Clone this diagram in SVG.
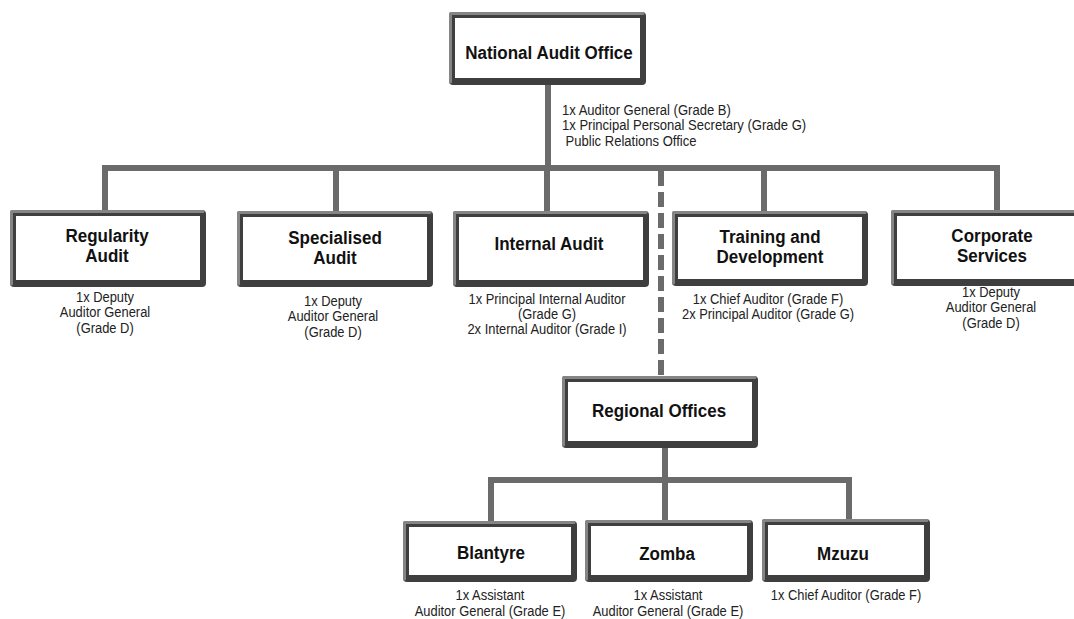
<svg xmlns="http://www.w3.org/2000/svg" width="1074" height="619" viewBox="0 0 1074 619">
<style>
.bg{fill:#ffffff}
.c{fill:none;stroke:#6b6b6b;stroke-width:6;stroke-linejoin:miter}
.d{fill:none;stroke:#6b6b6b;stroke-width:6;stroke-dasharray:15 6}
.bo{fill:#3f3f3f}
.hl{fill:none;stroke:#858585;stroke-width:3;stroke-linecap:round;stroke-linejoin:round}
.bi{fill:#ffffff}
.t{font-family:"Liberation Sans",Arial,sans-serif;font-weight:bold;font-size:18.5px;fill:#111;text-anchor:middle}
.n{font-family:"Liberation Sans",Arial,sans-serif;font-size:14.5px;fill:#222;text-anchor:middle}
.nl{font-family:"Liberation Sans",Arial,sans-serif;font-size:14.5px;fill:#222}
</style>
<rect class="bg" x="0" y="0" width="1074" height="619"/>
<g id="connectors">
<path class="c" d="M548,85 V168"/>
<path class="c" d="M105,212 V168 H997 V212"/>
<path class="c" d="M336,168 V213"/>
<path class="c" d="M547,168 V213"/>
<path class="c" d="M764,168 V213"/>
<path class="d" d="M661,171 V377"/>
<path class="c" d="M665,448 V480"/>
<path class="c" d="M491,523 V480 H849 V520"/>
<path class="c" d="M665,480 V522"/>
</g>
<g id="nao">
<rect class="bo" x="449" y="12" width="197" height="73" rx="4"/>
<path class="hl" d="M450.5,82 V13.5 H643"/>
<rect class="bi" x="455" y="18" width="185" height="60"/>
<text class="t" transform="translate(549,58.5) scale(0.92,1)">National Audit Office</text>
<text class="nl" transform="translate(562,115) scale(0.9,1)"><tspan x="0" y="0">1x Auditor General (Grade B)</tspan><tspan x="0" y="15.5">1x Principal Personal Secretary (Grade G)</tspan><tspan x="4" y="31">Public Relations Office</tspan></text>
</g>
<g id="regularity">
<rect class="bo" x="10" y="210" width="196" height="77" rx="4"/>
<path class="hl" d="M11.5,284 V211.5 H203"/>
<rect class="bi" x="16" y="216" width="184" height="64"/>
<text class="t" transform="translate(107,241.5) scale(0.92,1)"><tspan x="0" y="0">Regularity</tspan><tspan x="0" y="21">Audit</tspan></text>
<text class="n" transform="translate(105,302) scale(0.89,1)"><tspan x="0" y="0">1x Deputy</tspan><tspan x="0" y="15.5">Auditor General</tspan><tspan x="0" y="31">(Grade D)</tspan></text>
</g>
<g id="specialised">
<rect class="bo" x="237" y="211" width="196" height="76" rx="4"/>
<path class="hl" d="M238.5,284 V212.5 H430"/>
<rect class="bi" x="243" y="217" width="184" height="63"/>
<text class="t" transform="translate(335,243.5) scale(0.92,1)"><tspan x="0" y="0">Specialised</tspan><tspan x="0" y="21">Audit</tspan></text>
<text class="n" transform="translate(333,306) scale(0.89,1)"><tspan x="0" y="0">1x Deputy</tspan><tspan x="0" y="15.5">Auditor General</tspan><tspan x="0" y="31">(Grade D)</tspan></text>
</g>
<g id="internal">
<rect class="bo" x="453" y="211" width="196" height="76" rx="4"/>
<path class="hl" d="M454.5,284 V212.5 H646"/>
<rect class="bi" x="459" y="217" width="184" height="63"/>
<text class="t" transform="translate(549,250) scale(0.92,1)">Internal Audit</text>
<text class="n" transform="translate(547,304) scale(0.89,1)"><tspan x="0" y="0">1x Principal Internal Auditor</tspan><tspan x="0" y="15">(Grade G)</tspan><tspan x="0" y="30">2x Internal Auditor (Grade I)</tspan></text>
</g>
<g id="training">
<rect class="bo" x="672" y="211" width="196" height="75" rx="4"/>
<path class="hl" d="M673.5,283 V212.5 H865"/>
<rect class="bi" x="678" y="217" width="184" height="62"/>
<text class="t" transform="translate(770,242.5) scale(0.92,1)"><tspan x="0" y="0">Training and</tspan><tspan x="0" y="21">Development</tspan></text>
<text class="n" transform="translate(768,304) scale(0.89,1)"><tspan x="0" y="0">1x Chief Auditor (Grade F)</tspan><tspan x="0" y="15.5">2x Principal Auditor (Grade G)</tspan></text>
</g>
<g id="corporate">
<rect class="bo" x="891" y="210" width="200" height="76" rx="4"/>
<path class="hl" d="M892.5,283 V211.5 H1088"/>
<rect class="bi" x="897" y="216" width="188" height="63"/>
<text class="t" transform="translate(992,241.5) scale(0.92,1)"><tspan x="0" y="0">Corporate</tspan><tspan x="0" y="21">Services</tspan></text>
<text class="n" transform="translate(991,297) scale(0.89,1)"><tspan x="0" y="0">1x Deputy</tspan><tspan x="0" y="15.5">Auditor General</tspan><tspan x="0" y="31">(Grade D)</tspan></text>
</g>
<g id="regional">
<rect class="bo" x="562" y="376" width="196" height="72" rx="4"/>
<path class="hl" d="M563.5,445 V377.5 H755"/>
<rect class="bi" x="568" y="382" width="184" height="59"/>
<text class="t" transform="translate(659,417) scale(0.92,1)">Regional Offices</text>
</g>
<g id="blantyre">
<rect class="bo" x="403" y="521" width="174" height="61" rx="4"/>
<path class="hl" d="M404.5,579 V522.5 H574"/>
<rect class="bi" x="409" y="527" width="162" height="48"/>
<text class="t" transform="translate(491,559) scale(0.92,1)">Blantyre</text>
<text class="n" transform="translate(490,600) scale(0.89,1)"><tspan x="0" y="0">1x Assistant</tspan><tspan x="0" y="16">Auditor General (Grade E)</tspan></text>
</g>
<g id="zomba">
<rect class="bo" x="585" y="520" width="168" height="62" rx="4"/>
<path class="hl" d="M586.5,579 V521.5 H750"/>
<rect class="bi" x="591" y="526" width="156" height="49"/>
<text class="t" transform="translate(667,560) scale(0.92,1)">Zomba</text>
<text class="n" transform="translate(668,600) scale(0.89,1)"><tspan x="0" y="0">1x Assistant</tspan><tspan x="0" y="16">Auditor General (Grade E)</tspan></text>
</g>
<g id="mzuzu">
<rect class="bo" x="762" y="519" width="168" height="63" rx="4"/>
<path class="hl" d="M763.5,579 V520.5 H927"/>
<rect class="bi" x="768" y="525" width="156" height="50"/>
<text class="t" transform="translate(843,560) scale(0.92,1)">Mzuzu</text>
<text class="n" transform="translate(846,600) scale(0.89,1)">1x Chief Auditor (Grade F)</text>
</g>
</svg>
